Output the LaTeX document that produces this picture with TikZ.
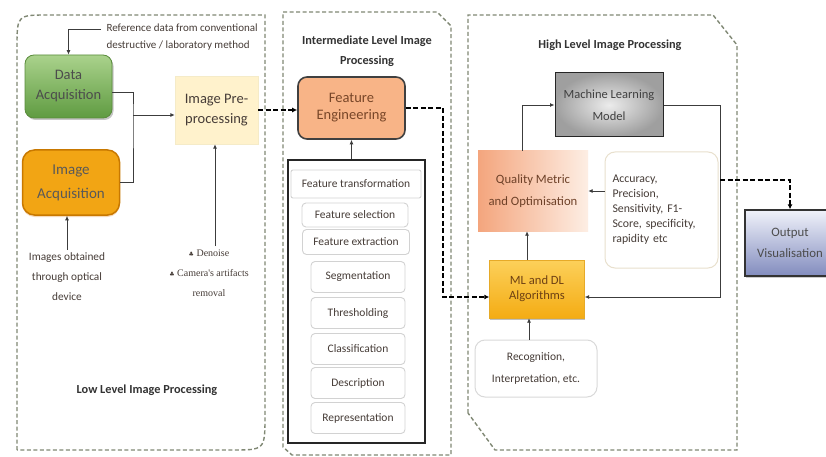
\documentclass[tikz,border=0pt]{standalone}
\usepackage{fontspec}
\setmainfont{Carlito}
\newfontfamily\serifface{Liberation Serif}
\newfontfamily\symface{DejaVu Sans}
\usetikzlibrary{shadows,arrows.meta,calc}
\definecolor{panelc}{RGB}{128,136,116}
\definecolor{linec}{RGB}{60,60,60}
\definecolor{txtc}{RGB}{70,60,55}
\newcommand{\bul}{{\symface\fontsize{6}{6}\selectfont ♣}}
\begin{document}
\begin{tikzpicture}[x=1pt,y=-1pt,
  panel/.style={draw=panelc, line width=1.4pt, dash pattern=on 4pt off 2.5pt},
  conn/.style={draw=linec, line width=0.9pt},
  arr/.style={conn, -{Latex[length=4.5pt,width=4pt]}},
  thickdash/.style={draw=black, line width=2pt, dash pattern=on 5pt off 2.5pt, -{Latex[length=5pt,width=5pt]}},
  lbl/.style={font=\fontsize{14.5}{20}\selectfont, align=center, text=txtc},
  plain/.style={font=\fontsize{11.3}{20}\selectfont, align=center, text=txtc},
  ttl/.style={font=\bfseries\fontsize{12.3}{20}\selectfont, align=center, text=black!80},
  itembox/.style={draw=gray!35, line width=0.9pt, rounded corners=4pt, fill=white,
     font=\fontsize{11.5}{12}\selectfont, text=txtc, inner sep=0pt},
  roundbox/.style={draw=gray!30, line width=1pt, rounded corners=10pt, fill=white, inner sep=0pt}
]
\useasboundingbox (0,0) rectangle (826,457);
\fill[white] (0,0) rectangle (826,457);

% ---------- panels ----------
\draw[panel] (17,450) -- (17,48) .. controls (17,15) .. (48,15) -- (265,15) -- (265,415) .. controls (265,450) .. (232,450) -- cycle;
\draw[panel] (283,12) -- (437,12) -- (451,26) -- (451,455) -- (292,455) -- (283,447) -- cycle;
\draw[panel] (468,413) -- (468,15) -- (713,15) -- (737,45) -- (737,450) -- (495,450) -- cycle;

% ---------- low level ----------
\node[lbl, minimum width=87pt, minimum height=63pt, rounded corners=9pt,
      draw={rgb,255:red,90;green,140;blue,60}, line width=0.8pt,
      top color={rgb,255:red,170;green,210;blue,140}, bottom color={rgb,255:red,95;green,155;blue,65},
      drop shadow={opacity=0.45, shadow xshift=1.5pt, shadow yshift=-2pt}, text=black!70]
      (da) at (68.5,86.5) {Data\\Acquisition};
\node[lbl, minimum width=97pt, minimum height=65pt, rounded corners=12pt,
      draw={rgb,255:red,200;green,120;blue,0}, line width=1.5pt,
      fill={rgb,255:red,242;green,165;blue,20},
      drop shadow={opacity=0.35, shadow xshift=0pt, shadow yshift=-2pt, fill={rgb,255:red,230;green,150;blue,60}},
      text=black!65, font=\fontsize{15}{24}\selectfont]
      (ia) at (71,182.5) {Image\\Acquisition};
\node[lbl, minimum width=83pt, minimum height=68pt, fill={rgb,255:red,255;green,242;blue,204},
      draw={rgb,255:red,245;green,235;blue,200}]
      (pre) at (216.5,110) {Image Pre-\\processing};
\node[plain, align=left, anchor=west, font=\fontsize{11}{17}\selectfont]
      (ref) at (103,37) {Reference data from conventional\\destructive / laboratory method};
\coordinate (refin) at (101,29);
\node[plain] (img) at (67,277) {Images obtained\\through optical\\device};
\node[plain, font=\serifface\fontsize{10}{20}\selectfont] (den) at (209,273)
      {\bul\ Denoise\\ \bul\ Camera's artifacts\\removal};
\node[ttl] (low) at (147,390) {Low Level Image Processing};

\coordinate (jn) at (133,115);
\draw[arr] (refin) -| (da.north);
\draw[conn] ([yshift=-6pt]da.east) -| (jn) |- (ia.east);
\draw[arr] (jn) -- (jn -| pre.west);
\draw[arr] (img.north) -- (img.north |- ia.south);
\draw[arr] ([xshift=6pt]den.north) -- ([xshift=6pt]den.north |- pre.south);

% ---------- intermediate ----------
\node[ttl] (imt) at (367,51) {Intermediate Level Image\\Processing};
\node[lbl, minimum width=107pt, minimum height=62pt, rounded corners=9pt,
      draw=black!75, line width=1.6pt, fill={rgb,255:red,248;green,180;blue,135},
      text={rgb,255:red,120;green,70;blue,40}, font=\fontsize{14.5}{17}\selectfont]
      (fe) at (351.5,108) {Feature\\Engineering};
\node[draw=black!85, line width=1.8pt, minimum width=137pt, minimum height=283pt, inner sep=0pt]
      (lb) at (356.5,301.5) {};
\node[itembox, minimum width=130pt, minimum height=28pt, rounded corners=2pt] (ft) at (356,184) {Feature transformation};
\node[itembox, minimum width=106pt, minimum height=24pt] (fs) at (355,215) {Feature selection};
\node[itembox, minimum width=107pt, minimum height=25pt] (fx) at (356,242) {Feature extraction};
\node[itembox, minimum width=94pt, minimum height=31pt] (seg) at (358,277) {Segmentation};
\node[itembox, minimum width=94pt, minimum height=31pt] (thr) at (358,313) {Thresholding};
\node[itembox, minimum width=94pt, minimum height=31pt] (cls) at (358,349) {Classification};
\node[itembox, minimum width=94pt, minimum height=31pt] (des) at (358,383) {Description};
\node[itembox, minimum width=94pt, minimum height=31pt] (rep) at (358,418) {Representation};

\draw[arr] (fe.south |- lb.north) -- (fe.south);
\draw[thickdash] (pre.east) -- (pre.east -| fe.west);

% ---------- high level ----------
\node[ttl] (hlt) at (610,45) {High Level Image Processing};
\node[lbl, minimum width=108pt, minimum height=64pt, draw=black!85, line width=1pt,
      inner color=gray!15, outer color=gray!75, text=black!75, font=\fontsize{12.5}{22}\selectfont]
      (mlm) at (609,105) {Machine Learning\\Model};
\node[lbl, minimum width=110pt, minimum height=80pt,
      left color={rgb,255:red,244;green,165;blue,125}, right color={rgb,255:red,253;green,238;blue,228},
      text={rgb,255:red,110;green,65;blue,40}, font=\fontsize{12.7}{22}\selectfont]
      (qm) at (533,191) {Quality Metric\\and Optimisation};
\node[roundbox, draw={rgb,255:red,232;green,224;blue,205}, minimum width=113pt, minimum height=116pt,
      align=left, text width=98pt, font=\fontsize{11.8}{15}\selectfont, text=txtc]
      (acc) at (661.5,210) {Accuracy,\\Precision,\\Sensitivity, F1-\\Score, specificity,\\rapidity etc};
\node[lbl, minimum width=95pt, minimum height=58pt,
      top color={rgb,255:red,252;green,208;blue,90}, bottom color={rgb,255:red,244;green,172;blue,20},
      draw={rgb,255:red,230;green,170;blue,40},
      drop shadow={opacity=0.5, shadow xshift=0pt, shadow yshift=-2pt},
      text={rgb,255:red,110;green,65;blue,20}, font=\fontsize{12.6}{15}\selectfont]
      (mldl) at (537,289) {ML and DL\\Algorithms};
\node[roundbox, minimum width=122pt, minimum height=57pt, align=center,
      font=\fontsize{11.5}{22}\selectfont, text=txtc]
      (rec) at (536,368.5) {Recognition,\\Interpretation, etc.};
\node[lbl, minimum width=90pt, minimum height=66pt, draw=black!80, line width=1.3pt,
      top color={rgb,255:red,240;green,242;blue,250}, bottom color={rgb,255:red,130;green,140;blue,190},
      drop shadow={opacity=0.4, shadow xshift=1pt, shadow yshift=-2pt}, text=black!70,
      font=\fontsize{12.8}{21}\selectfont]
      (out) at (790,243) {Output\\Visualisation};

\coordinate (jf) at (443,297);
\coordinate (jr) at (720,297);
\coordinate (jo) at (720,180);
\draw[thickdash] (fe.east) -| (jf) -- (jf -| mldl.west);
\draw[arr] ([xshift=-11pt]qm.north) |- (mlm.west);
\draw[arr] (mlm.east) -| (jr) -- (jr -| mldl.east);
\draw[arr] (acc.west |- qm.east) -- (qm.east);
\draw[arr] ([xshift=-10pt]mldl.north) -- ([xshift=-10pt]mldl.north |- qm.south);
\draw[arr] ([xshift=-7pt]rec.north) -- ([xshift=-7pt]rec.north |- mldl.south);
\draw[thickdash] (jo) -| (out.north);
\end{tikzpicture}
\end{document}
